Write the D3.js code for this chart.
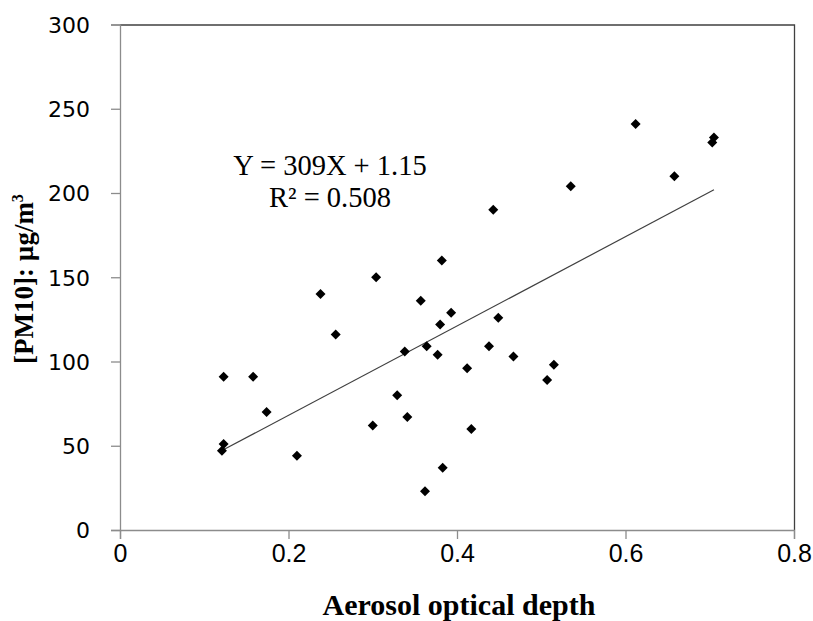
<!DOCTYPE html>
<html>
<head>
<meta charset="utf-8">
<script src="https://cdn.jsdelivr.net/npm/d3@7"></script>
<style>
  body { margin: 0; background: #fff; }
  .tick text { fill: #000; }
</style>
</head>
<body>
<div id="chart-area"></div>
<script>

// Data
var aod  = [0.121, 0.123, 0.123, 0.158, 0.174, 0.210, 0.238, 0.256, 0.300, 0.304,
            0.329, 0.338, 0.341, 0.357, 0.362, 0.364, 0.377, 0.380, 0.382, 0.383,
            0.393, 0.412, 0.417, 0.438, 0.443, 0.449, 0.467, 0.507, 0.515, 0.535,
            0.612, 0.658, 0.703, 0.705];
var pm10 = [47, 51, 91, 91, 70, 44, 140, 116, 62, 150,
            80, 106, 67, 136, 23, 109, 104, 122, 160, 37,
            129, 96, 60, 109, 190, 126, 103, 89, 98, 204,
            241, 210, 230, 233];
var xTicks = [0, 0.2, 0.4, 0.6, 0.8];
var yTicks = [0, 50, 100, 150, 200, 250, 300];
var eqLines = ["Y = 309X + 1.15", "R\u00B2 = 0.508"];

var margin = {top: 24.5, right: 19, bottom: 91, left: 120};
var W = 813, H = 621;
var width = W - margin.left - margin.right;
var height = H - margin.top - margin.bottom;

var svg = d3.select("#chart-area").append("svg")
    .attr("width", W)
    .attr("height", H)
  .append("g")
    .attr("transform", "translate(" + margin.left + "," + margin.top + ")");

var x = d3.scaleLinear().domain([0, 0.8]).range([0, width]);
var y = d3.scaleLinear().domain([0, 300]).range([height, 0]);

var points = aod.map(function(d, i) { return {x: d, y: pm10[i]}; });

// plot area border (top/right)
svg.append("path")
    .attr("d", "M0,0.5H" + (width + 0.5) + "V" + height)
    .attr("fill", "none")
    .attr("stroke", "#404040")
    .attr("stroke-width", 1.3);

// axes
var xAxis = svg.append("g")
    .attr("transform", "translate(0," + height + ")")
    .call(d3.axisBottom(x).tickValues(xTicks).tickSize(9).tickSizeOuter(9)
        .tickFormat(function(d) { return d === 0 ? "0" : d3.format(".1f")(d); }));
var yAxis = svg.append("g")
    .call(d3.axisLeft(y).tickValues(yTicks).tickSize(9).tickSizeOuter(9)
        .tickFormat(d3.format("d")));

[xAxis, yAxis].forEach(function(a) {
  a.select(".domain").attr("stroke", "#8c8c8c").attr("stroke-width", 1.3);
  a.selectAll(".tick line").attr("stroke", "#8c8c8c").attr("stroke-width", 1.3);
});

xAxis.selectAll(".tick text")
    .attr("font-family", "Liberation Sans Narrow, Liberation Sans, Arial, sans-serif")
    .attr("font-size", 25)
    .attr("dy", null)
    .attr("y", 32);

yAxis.selectAll(".tick text")
    .attr("font-family", "DejaVu Sans, sans-serif")
    .attr("font-size", 22)
    .attr("x", -30)
    .attr("dy", "0.36em");

// trend line (least squares)
var mx = d3.mean(aod), my = d3.mean(pm10);
var sxy = d3.sum(points, function(d) { return (d.x - mx) * (d.y - my); });
var sxx = d3.sum(points, function(d) { return (d.x - mx) * (d.x - mx); });
var slope = sxy / sxx, icpt = my - slope * mx;
var xr = d3.extent(aod);

var line = d3.line()
    .x(function(d) { return x(d); })
    .y(function(d) { return y(slope * d + icpt); });

svg.append("path")
    .attr("d", line(xr))
    .attr("fill", "none")
    .attr("stroke", "#404040")
    .attr("stroke-width", 1.2);

// markers: squares turned 45 degrees
var sym = d3.symbol().type(d3.symbolSquare).size(50);
svg.selectAll(".pt")
    .data(points)
  .enter().append("path")
    .attr("class", "pt")
    .attr("d", sym)
    .attr("fill", "#000")
    .attr("transform", function(d) {
      return "translate(" + x(d.x) + "," + y(d.y) + ") rotate(45)";
    });

// equation label
svg.append("text")
    .attr("x", 210)
    .attr("y", 150)
    .attr("text-anchor", "middle")
    .attr("font-family", "Liberation Serif, Times New Roman, serif")
    .attr("font-size", 28.5)
    .selectAll("tspan")
    .data(eqLines)
  .enter().append("tspan")
    .attr("x", 210)
    .attr("dy", function(d, i) { return i === 0 ? 0 : 32; })
    .text(function(d) { return d; });

// axis titles
svg.append("text")
    .attr("x", width / 2 + 2)
    .attr("y", height + 85)
    .attr("text-anchor", "middle")
    .attr("font-family", "Liberation Serif, Times New Roman, serif")
    .attr("font-weight", "bold")
    .attr("font-size", 30)
    .text("Aerosol optical depth");

var yt = svg.append("text")
    .attr("transform", "translate(-87," + (279 - margin.top) + ") rotate(-90)")
    .attr("text-anchor", "middle")
    .attr("font-family", "Liberation Serif, Times New Roman, serif")
    .attr("font-weight", "bold")
    .attr("font-size", 27);
yt.append("tspan").text("[PM10]: \u00B5g/m");
yt.append("tspan").attr("dy", -10).attr("font-size", 16).text("3");

</script>
</body>
</html>
